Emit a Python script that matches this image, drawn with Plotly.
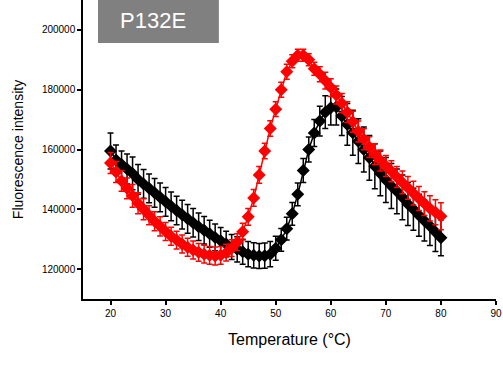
import plotly.graph_objects as go

temps = list(range(20, 81))

black_vals = [159500, 156500, 155000, 153500, 152000, 150000, 148500, 147000, 145500, 144000,
              142500, 141000, 139600, 138200, 136800, 135500, 134200, 133000, 131800, 130600,
              129500, 128400, 127400, 126600, 125800, 125000, 124600, 124400, 124500, 125000,
              127000, 129800, 133500, 138500, 145000, 153000, 160000, 165500, 169500, 172500,
              174000, 174200, 171200, 168400, 165600, 162800, 160000, 157200, 154400, 152000,
              149800, 147800, 146000, 144000, 141800, 140000, 138000, 136200, 134400, 132400,
              130500]
black_err = [6000, 5000, 4500, 5000, 5500, 5000, 4800, 4800, 4800, 4800,
             4800, 4800, 4800, 4800, 4800, 4800, 4600, 4600, 4500, 4500,
             4400, 4300, 4200, 4200, 4200, 4200, 4200, 4200, 4200, 4200,
             4000, 3800, 3800, 3800, 3800, 4000, 4200, 4500, 5000, 5500,
             5800, 6000, 6500, 7000, 7500, 7500, 7500, 7500, 7500, 7500,
             7500, 7500, 7500, 7500, 7200, 7000, 7000, 6800, 6500, 6500,
             6000]

red_vals = [155500, 152500, 149500, 147000, 144500, 142000, 140000, 138000, 136000, 134300,
            132600, 131000, 129700, 128400, 127300, 126400, 125600, 125000, 124600, 124400,
            124600, 125500, 127000, 129000, 132500, 137500, 143800, 151500, 159500, 167000,
            173500, 180000, 186000, 189500, 191500, 191500, 190000, 187000, 185200, 183000,
            180700, 178200, 175500, 172500, 169300, 166000, 163400, 160800, 158400, 156300,
            154500, 152700, 150800, 149000, 147200, 145400, 143600, 141900, 140300, 139000,
            137700]
red_err = [3500, 3500, 3500, 3500, 3800, 3500, 3500, 3200, 3200, 3200,
           3000, 3000, 3000, 3000, 3000, 3000, 3000, 3000, 3000, 3000,
           3000, 2800, 2800, 2800, 2800, 2800, 2800, 2800, 2600, 2600,
           2500, 2500, 2500, 2200, 2000, 2000, 2000, 2200, 2500, 2800,
           3000, 3000, 3200, 3500, 3500, 3500, 3500, 3500, 3500, 3500,
           3500, 3500, 3500, 3800, 3800, 4000, 4000, 4000, 4200, 4200,
           4500]

x_ticks = [20, 30, 40, 50, 60, 70, 80, 90]
y_ticks = [120000, 140000, 160000, 180000, 200000]

FONT = "Arial, Liberation Sans, sans-serif"

fig = go.Figure()
for vals, errs, col in [(black_vals, black_err, "black"), (red_vals, red_err, "red")]:
    fig.add_trace(go.Scatter(
        x=temps, y=vals, mode="lines+markers",
        line=dict(color=col, width=1.5),
        marker=dict(symbol="diamond", size=10, color=col),
        error_y=dict(type="data", array=errs, visible=True, color=col,
                     thickness=1.5, width=3),
        showlegend=False,
    ))

fig.update_layout(
    width=503, height=372,
    margin=dict(l=83, r=7, t=0, b=73),
    paper_bgcolor="white", plot_bgcolor="white",
    font=dict(family=FONT, color="black"),
    xaxis=dict(range=[15, 90], tickvals=x_ticks, ticks="outside", ticklen=4,
               tickwidth=1.5, tickcolor="black", showline=True, linecolor="black",
               linewidth=1.5, showgrid=False, zeroline=False,
               tickfont=dict(size=10, family=FONT),
               title=dict(text="Temperature (°C)", font=dict(size=16, family=FONT), standoff=16)),
    yaxis=dict(range=[110000, 210000], tickvals=y_ticks,
               ticktext=[str(v) for v in y_ticks], ticks="outside", ticklen=4,
               tickwidth=1.5, tickcolor="black", showline=True, linecolor="black",
               linewidth=1.5, showgrid=False, zeroline=False,
               tickfont=dict(size=10, family=FONT),
               title=dict(text="Fluorescence intensity", font=dict(size=14, family=FONT), standoff=15)),
    shapes=[dict(type="rect", xref="paper", yref="paper",
                 x0=0.0363, x1=0.329, y0=0.856, y1=1.0,
                 fillcolor="#808080", line=dict(width=0), layer="above")],
    annotations=[dict(text="P132E", xref="paper", yref="paper", x=0.169, y=0.93,
                      showarrow=False, font=dict(size=22, color="white", family=FONT),
                      xanchor="center", yanchor="middle")],
)

fig.write_html("out.html")
